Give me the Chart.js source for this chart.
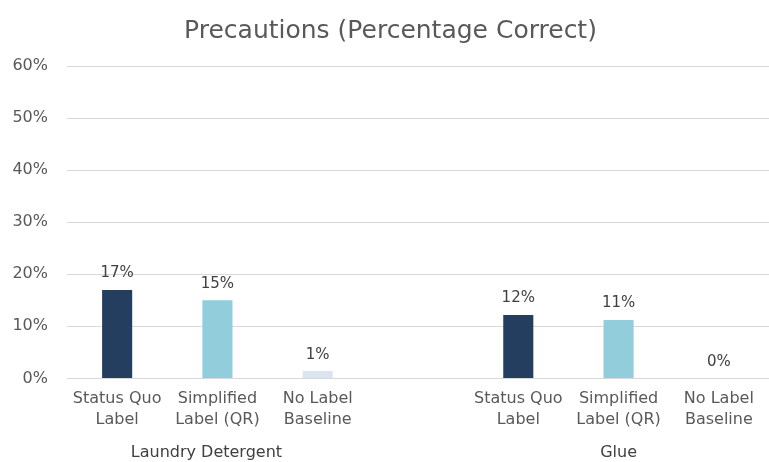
<!DOCTYPE html>
<html>
<head>
<meta charset="utf-8">
<script src="https://cdn.jsdelivr.net/npm/chart.js@4/dist/chart.umd.min.js"></script>
<style>
  html, body { margin: 0; padding: 0; background: #fff; }
  #wrap { width: 769px; height: 462px; }
</style>
</head>
<body>
<div id="wrap"><canvas id="precautionsChart"></canvas></div>
<script>
// groups and the three label conditions inside each group
var groups = ['Laundry Detergent', 'Glue'];
var conditions = [['Status Quo', 'Label'], ['Simplified', 'Label (QR)'], ['No Label', 'Baseline']];
var laundryValues = [17, 15, 1.4];
var glueValues = [12.2, 11.2, 0];
var yTicks = [0, 10, 20, 30, 40, 50, 60];

var barColors = ['#243e5f', '#92cddc', '#dbe5f1'];

// one empty slot separates the two groups
var labels = conditions.concat([''], conditions);
var values = laundryValues.concat([null], glueValues);
var colors = barColors.concat(['rgba(0,0,0,0)'], barColors);

var FONT = "'DejaVu Sans', Verdana, sans-serif";

// percentage above each bar
var valueLabels = {
    id: 'valueLabels',
    afterDatasetsDraw: function (chart) {
        var ctx = chart.ctx;
        var meta = chart.getDatasetMeta(0);
        ctx.save();
        ctx.font = '15px ' + FONT;
        ctx.fillStyle = '#404040';
        ctx.textAlign = 'center';
        ctx.textBaseline = 'bottom';
        meta.data.forEach(function (bar, i) {
            var v = values[i];
            if (v === null) return;
            ctx.fillText(Math.round(v) + '%', bar.x, bar.y - 9);
        });
        ctx.restore();
    }
};

// group names under the category labels
var groupLabels = {
    id: 'groupLabels',
    afterDraw: function (chart) {
        var ctx = chart.ctx;
        var x = chart.scales.x;
        ctx.save();
        ctx.font = '16px ' + FONT;
        ctx.fillStyle = '#404040';
        ctx.textAlign = 'center';
        ctx.textBaseline = 'middle';
        groups.forEach(function (g, gi) {
            var first = gi * 4;
            var cx = (x.getPixelForTick(first) + x.getPixelForTick(first + 2)) / 2;
            ctx.fillText(g, cx - (gi === 0 ? 11 : 0), x.bottom + 21);
        });
        ctx.restore();
    }
};

var ctx = document.getElementById('precautionsChart');
var myChart = new Chart(ctx, {
    type: 'bar',
    data: {
        labels: labels,
        datasets: [{
            label: 'Precautions',
            data: values,
            backgroundColor: colors,
            borderWidth: 0,
            categoryPercentage: 1,
            barPercentage: 0.3
        }]
    },
    options: {
        responsive: true,
        maintainAspectRatio: false,
        animation: false,
        layout: { padding: { left: 12, right: 0, top: 16, bottom: 30 } },
        plugins: {
            legend: { display: false },
            tooltip: { enabled: false },
            title: {
                display: true,
                text: 'Precautions (Percentage Correct)',
                color: '#595959',
                font: { family: FONT, size: 25, weight: 'normal' },
                padding: { top: 0, bottom: 20 }
            }
        },
        scales: {
            x: {
                grid: { display: false },
                border: { display: false },
                ticks: {
                    color: '#595959',
                    font: { family: FONT, size: 16, lineHeight: 1.3 },
                    maxRotation: 0,
                    autoSkip: false,
                    padding: 2
                }
            },
            y: {
                min: 0,
                max: 60,
                afterBuildTicks: function (axis) {
                    axis.ticks = yTicks.map(function (v) { return { value: v }; });
                },
                afterFit: function (axis) {
                    axis.width = 55;
                },
                grid: { color: '#d9d9d9', drawTicks: false },
                border: { display: false },
                ticks: {
                    color: '#595959',
                    font: { family: FONT, size: 16 },
                    padding: 19,
                    callback: function (v) { return v + '%'; }
                }
            }
        }
    },
    plugins: [valueLabels, groupLabels]
});
</script>
</body>
</html>
